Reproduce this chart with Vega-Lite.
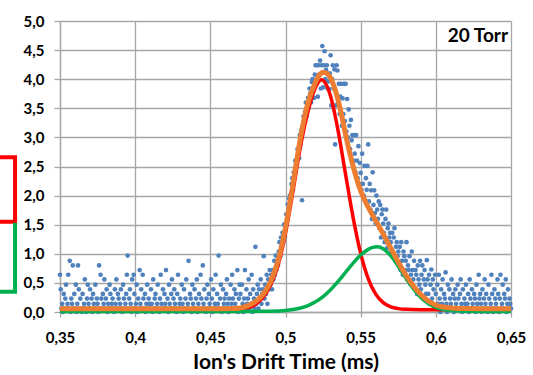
{
  "$schema": "https://vega.github.io/schema/vega-lite/v6.json",
  "autosize": {"type": "none"},
  "padding": {"left": 60, "top": 21, "right": 22, "bottom": 63},
  "width": 451,
  "height": 291,
  "background": "white",
  "config": {
    "view": {"stroke": null},
    "font": "Lato",
    "axis": {
      "gridColor": "#a6a6a6", "gridWidth": 1.3, "domainColor": "#a6a6a6", "domainWidth": 1.3,
      "tickColor": "#a6a6a6", "tickWidth": 1.3,
      "labelFont": "Lato", "labelFontWeight": "bold", "labelFontSize": 15, "labelColor": "#000000",
      "titleFont": "Lato", "titleFontWeight": "bold", "titleFontSize": 21, "titleColor": "#000000"
    }
  },
  "datasets": {
    "brackets": [
      {"g": "r", "c": "#ff0000", "o": 1, "x": 0.3, "y": 2.66},
      {"g": "r", "c": "#ff0000", "o": 2, "x": 0.3201, "y": 2.66},
      {"g": "r", "c": "#ff0000", "o": 3, "x": 0.3201, "y": 1.55},
      {"g": "r", "c": "#ff0000", "o": 4, "x": 0.3, "y": 1.55},
      {"g": "g", "c": "#00b050", "o": 1, "x": 0.3201, "y": 1.5},
      {"g": "g", "c": "#00b050", "o": 2, "x": 0.3201, "y": 0.35},
      {"g": "g", "c": "#00b050", "o": 3, "x": 0.3, "y": 0.35}
    ],
    "red": [
      {"x": 0.35, "y": 0.04}, {"x": 0.46, "y": 0.04}, {"x": 0.47, "y": 0.05}, {"x": 0.475, "y": 0.07},
      {"x": 0.48, "y": 0.13}, {"x": 0.485, "y": 0.25}, {"x": 0.49, "y": 0.46}, {"x": 0.495, "y": 0.8},
      {"x": 0.5, "y": 1.35}, {"x": 0.505, "y": 2.08}, {"x": 0.51, "y": 2.85}, {"x": 0.515, "y": 3.45},
      {"x": 0.52, "y": 3.86}, {"x": 0.524, "y": 3.99}, {"x": 0.525, "y": 3.98}, {"x": 0.53, "y": 3.705},
      {"x": 0.535, "y": 3.111}, {"x": 0.54, "y": 2.359}, {"x": 0.545, "y": 1.618}, {"x": 0.55, "y": 1.007},
      {"x": 0.555, "y": 0.574}, {"x": 0.56, "y": 0.306}, {"x": 0.565, "y": 0.16}, {"x": 0.57, "y": 0.088},
      {"x": 0.575, "y": 0.058}, {"x": 0.58, "y": 0.046}, {"x": 0.59, "y": 0.04}, {"x": 0.65, "y": 0.04}
    ],
    "green": [
      {"x": 0.35, "y": 0.01}, {"x": 0.47, "y": 0.01}, {"x": 0.48, "y": 0.011}, {"x": 0.49, "y": 0.014},
      {"x": 0.5, "y": 0.026}, {"x": 0.505, "y": 0.042}, {"x": 0.51, "y": 0.068}, {"x": 0.515, "y": 0.111},
      {"x": 0.52, "y": 0.175}, {"x": 0.525, "y": 0.265}, {"x": 0.53, "y": 0.383}, {"x": 0.535, "y": 0.526},
      {"x": 0.54, "y": 0.683}, {"x": 0.545, "y": 0.84}, {"x": 0.55, "y": 0.978}, {"x": 0.555, "y": 1.076},
      {"x": 0.558, "y": 1.11}, {"x": 0.561, "y": 1.12}, {"x": 0.565, "y": 1.088}, {"x": 0.57, "y": 0.968},
      {"x": 0.575, "y": 0.787}, {"x": 0.58, "y": 0.586}, {"x": 0.585, "y": 0.4}, {"x": 0.59, "y": 0.251},
      {"x": 0.595, "y": 0.146}, {"x": 0.6, "y": 0.08}, {"x": 0.605, "y": 0.043}, {"x": 0.61, "y": 0.024},
      {"x": 0.615, "y": 0.015}, {"x": 0.62, "y": 0.011}, {"x": 0.65, "y": 0.01}
    ],
    "orange": [
      {"x": 0.35, "y": 0.055}, {"x": 0.45, "y": 0.055}, {"x": 0.465, "y": 0.06}, {"x": 0.47, "y": 0.07},
      {"x": 0.475, "y": 0.11}, {"x": 0.48, "y": 0.18}, {"x": 0.485, "y": 0.3}, {"x": 0.49, "y": 0.52},
      {"x": 0.495, "y": 0.88}, {"x": 0.5, "y": 1.45}, {"x": 0.505, "y": 2.2}, {"x": 0.51, "y": 3.0},
      {"x": 0.515, "y": 3.6}, {"x": 0.52, "y": 3.95}, {"x": 0.5225, "y": 4.07}, {"x": 0.525, "y": 4.12},
      {"x": 0.5275, "y": 4.1}, {"x": 0.53, "y": 4.02}, {"x": 0.5325, "y": 3.86}, {"x": 0.535, "y": 3.64},
      {"x": 0.5375, "y": 3.36}, {"x": 0.54, "y": 3.04}, {"x": 0.545, "y": 2.5}, {"x": 0.55, "y": 2.08},
      {"x": 0.555, "y": 1.8}, {"x": 0.56, "y": 1.57}, {"x": 0.565, "y": 1.34}, {"x": 0.57, "y": 1.1},
      {"x": 0.575, "y": 0.86}, {"x": 0.58, "y": 0.64}, {"x": 0.585, "y": 0.45}, {"x": 0.59, "y": 0.3},
      {"x": 0.595, "y": 0.19}, {"x": 0.6, "y": 0.12}, {"x": 0.605, "y": 0.085}, {"x": 0.61, "y": 0.068},
      {"x": 0.62, "y": 0.058}, {"x": 0.65, "y": 0.055}
    ],
    "label": [{"x": 0.648, "y": 4.74, "t": "20 Torr"}],
    "pts": [
      {"x":0.35,"y":0.64},{"x":0.3505,"y":0.39},{"x":0.351,"y":0.06},{"x":0.3515,"y":0.14},{"x":0.352,"y":0},{"x":0.3525,"y":0.31},{"x":0.353,"y":0.06},{"x":0.3535,"y":0.23},{"x":0.354,"y":0.47},{"x":0.3545,"y":0.06},
      {"x":0.355,"y":0.14},{"x":0.3555,"y":0.64},{"x":0.356,"y":0.06},{"x":0.3565,"y":0.88},{"x":0.357,"y":0},{"x":0.3575,"y":0.23},{"x":0.358,"y":0.14},{"x":0.3585,"y":0.8},{"x":0.359,"y":0.06},{"x":0.3595,"y":0.31},
      {"x":0.36,"y":0.06},{"x":0.3605,"y":0.47},{"x":0.361,"y":0},{"x":0.3615,"y":0.14},{"x":0.362,"y":0.8},{"x":0.3625,"y":0.39},{"x":0.363,"y":0.06},{"x":0.3635,"y":0.23},{"x":0.364,"y":0.06},{"x":0.3645,"y":0},
      {"x":0.365,"y":0.31},{"x":0.3655,"y":0.06},{"x":0.366,"y":0.14},{"x":0.3665,"y":0.56},{"x":0.367,"y":0.06},{"x":0.3675,"y":0},{"x":0.368,"y":0.23},{"x":0.3685,"y":0.47},{"x":0.369,"y":0.14},{"x":0.3695,"y":0.06},
      {"x":0.37,"y":0.39},{"x":0.3705,"y":0.06},{"x":0.371,"y":0.23},{"x":0.3715,"y":0},{"x":0.372,"y":0.31},{"x":0.3725,"y":0.14},{"x":0.373,"y":0.06},{"x":0.3735,"y":0.47},{"x":0.374,"y":0.06},{"x":0.3745,"y":0.23},
      {"x":0.375,"y":0.14},{"x":0.3755,"y":0},{"x":0.376,"y":0.8},{"x":0.3765,"y":0.06},{"x":0.377,"y":0.64},{"x":0.3775,"y":0.23},{"x":0.378,"y":0.06},{"x":0.3785,"y":0.31},{"x":0.379,"y":0.14},{"x":0.3795,"y":0.56},
      {"x":0.38,"y":0.06},{"x":0.3805,"y":0.23},{"x":0.381,"y":0.39},{"x":0.3815,"y":0},{"x":0.382,"y":0.14},{"x":0.3825,"y":0.06},{"x":0.383,"y":0.47},{"x":0.3835,"y":0.31},{"x":0.384,"y":0.06},{"x":0.3845,"y":0.14},
      {"x":0.385,"y":0.23},{"x":0.3855,"y":0.06},{"x":0.386,"y":0},{"x":0.3865,"y":0.39},{"x":0.387,"y":0.14},{"x":0.3875,"y":0.56},{"x":0.388,"y":0.06},{"x":0.3885,"y":0.31},{"x":0.389,"y":0.23},{"x":0.3895,"y":0.06},
      {"x":0.39,"y":0.14},{"x":0.3905,"y":0.39},{"x":0.391,"y":0.06},{"x":0.3915,"y":0},{"x":0.392,"y":0.47},{"x":0.3925,"y":0.23},{"x":0.393,"y":0.06},{"x":0.3935,"y":0.14},{"x":0.394,"y":0.31},{"x":0.3945,"y":0.64},
      {"x":0.395,"y":0.97},{"x":0.3955,"y":0.06},{"x":0.396,"y":0.23},{"x":0.3965,"y":0.39},{"x":0.397,"y":0.14},{"x":0.3975,"y":0},{"x":0.398,"y":0.56},{"x":0.3985,"y":0.06},{"x":0.399,"y":0.64},{"x":0.3995,"y":0.31},
      {"x":0.4,"y":0.06},{"x":0.4005,"y":0.14},{"x":0.401,"y":0.47},{"x":0.4015,"y":0},{"x":0.402,"y":0.23},{"x":0.4025,"y":0.06},{"x":0.403,"y":0.72},{"x":0.4035,"y":0.14},{"x":0.404,"y":0.39},{"x":0.4045,"y":0.06},
      {"x":0.405,"y":0.64},{"x":0.4055,"y":0.23},{"x":0.406,"y":0.06},{"x":0.4065,"y":0.31},{"x":0.407,"y":0},{"x":0.4075,"y":0.14},{"x":0.408,"y":0.47},{"x":0.4085,"y":0.06},{"x":0.409,"y":0.23},{"x":0.4095,"y":0.14},
      {"x":0.41,"y":0.06},{"x":0.4105,"y":0.39},{"x":0.411,"y":0.14},{"x":0.4115,"y":0},{"x":0.412,"y":0.56},{"x":0.4125,"y":0.06},{"x":0.413,"y":0.23},{"x":0.4135,"y":0.31},{"x":0.414,"y":0.06},{"x":0.4145,"y":0.14},
      {"x":0.415,"y":0.47},{"x":0.4155,"y":0.06},{"x":0.416,"y":0},{"x":0.4165,"y":0.23},{"x":0.417,"y":0.64},{"x":0.4175,"y":0.14},{"x":0.418,"y":0.06},{"x":0.4185,"y":0.39},{"x":0.419,"y":0.06},{"x":0.4195,"y":0.31},
      {"x":0.42,"y":0.14},{"x":0.4205,"y":0.72},{"x":0.421,"y":0.06},{"x":0.4215,"y":0.23},{"x":0.422,"y":0},{"x":0.4225,"y":0.47},{"x":0.423,"y":0.14},{"x":0.4235,"y":0.06},{"x":0.424,"y":0.31},{"x":0.4245,"y":0.56},
      {"x":0.425,"y":0.06},{"x":0.4255,"y":0.23},{"x":0.426,"y":0.39},{"x":0.4265,"y":0.14},{"x":0.427,"y":0.06},{"x":0.4275,"y":0},{"x":0.428,"y":0.31},{"x":0.4285,"y":0.64},{"x":0.429,"y":0.06},{"x":0.4295,"y":0.14},
      {"x":0.43,"y":0.23},{"x":0.4305,"y":0.06},{"x":0.431,"y":0.47},{"x":0.4315,"y":0.14},{"x":0.432,"y":0},{"x":0.4325,"y":0.39},{"x":0.433,"y":0.06},{"x":0.4335,"y":0.23},{"x":0.434,"y":0.56},{"x":0.4345,"y":0.06},
      {"x":0.435,"y":0.14},{"x":0.4355,"y":0.88},{"x":0.436,"y":0.06},{"x":0.4365,"y":0.31},{"x":0.437,"y":0.23},{"x":0.4375,"y":0},{"x":0.438,"y":0.47},{"x":0.4385,"y":0.14},{"x":0.439,"y":0.06},{"x":0.4395,"y":0.39},
      {"x":0.44,"y":0.06},{"x":0.4405,"y":0.23},{"x":0.441,"y":0.56},{"x":0.4415,"y":0},{"x":0.442,"y":0.14},{"x":0.4425,"y":0.31},{"x":0.443,"y":0.06},{"x":0.4435,"y":0.64},{"x":0.444,"y":0.23},{"x":0.4445,"y":0.06},
      {"x":0.445,"y":0.8},{"x":0.4455,"y":0.14},{"x":0.446,"y":0.39},{"x":0.4465,"y":0.06},{"x":0.447,"y":0},{"x":0.4475,"y":0.23},{"x":0.448,"y":0.47},{"x":0.4485,"y":0.06},{"x":0.449,"y":0.31},{"x":0.4495,"y":0.14},
      {"x":0.45,"y":0.06},{"x":0.4505,"y":0.56},{"x":0.451,"y":0.23},{"x":0.4515,"y":0},{"x":0.452,"y":0.39},{"x":0.4525,"y":0.06},{"x":0.453,"y":0.14},{"x":0.4535,"y":0.64},{"x":0.454,"y":0.06},{"x":0.4545,"y":0.31},
      {"x":0.455,"y":0.14},{"x":0.4555,"y":0.97},{"x":0.456,"y":0.06},{"x":0.4565,"y":0.23},{"x":0.457,"y":0.47},{"x":0.4575,"y":0},{"x":0.458,"y":0.06},{"x":0.4585,"y":0.39},{"x":0.459,"y":0.14},{"x":0.4595,"y":0.23},
      {"x":0.46,"y":0.06},{"x":0.4605,"y":0.31},{"x":0.461,"y":0.56},{"x":0.4615,"y":0.14},{"x":0.462,"y":0},{"x":0.4625,"y":0.23},{"x":0.463,"y":0.06},{"x":0.4635,"y":0.47},{"x":0.464,"y":0.14},{"x":0.4645,"y":0.64},
      {"x":0.465,"y":0.23},{"x":0.4655,"y":0.06},{"x":0.466,"y":0.39},{"x":0.4665,"y":0.14},{"x":0.467,"y":0.31},{"x":0.4675,"y":0.06},{"x":0.468,"y":0.72},{"x":0.4685,"y":0},{"x":0.469,"y":0.23},{"x":0.4695,"y":0.47},
      {"x":0.47,"y":0.31},{"x":0.4705,"y":0.06},{"x":0.471,"y":0.47},{"x":0.4715,"y":0.14},{"x":0.472,"y":0},{"x":0.4725,"y":0.23},{"x":0.473,"y":0.72},{"x":0.4735,"y":0.06},{"x":0.474,"y":0.39},{"x":0.4745,"y":0.14},
      {"x":0.475,"y":0.23},{"x":0.4755,"y":0.56},{"x":0.476,"y":0.06},{"x":0.4765,"y":0.31},{"x":0.477,"y":0.14},{"x":0.4775,"y":0.64},{"x":0.478,"y":0},{"x":0.4785,"y":0.39},{"x":0.479,"y":0.23},{"x":0.4795,"y":0.06},
      {"x":0.48,"y":1.12},{"x":0.4805,"y":0.14},{"x":0.481,"y":0.31},{"x":0.4815,"y":0.47},{"x":0.482,"y":0.06},{"x":0.4825,"y":0.39},{"x":0.483,"y":0.23},{"x":0.4835,"y":0.56},{"x":0.484,"y":0.14},{"x":0.4845,"y":0.31},
      {"x":0.485,"y":0.39},{"x":0.4855,"y":0.96},{"x":0.486,"y":0.23},{"x":0.4865,"y":0.47},{"x":0.487,"y":0.31},{"x":0.4875,"y":0.64},{"x":0.488,"y":0.14},{"x":0.4885,"y":0.56},{"x":0.489,"y":0.39},{"x":0.4895,"y":0.72},
      {"x":0.49,"y":0.47},{"x":0.4905,"y":0.64},{"x":0.491,"y":0.39},{"x":0.4915,"y":0.72},{"x":0.492,"y":0.56},{"x":0.4925,"y":0.88},{"x":0.493,"y":0.64},{"x":0.4935,"y":0.97},{"x":0.494,"y":0.72},{"x":0.4945,"y":0.8},
      {"x":0.495,"y":0.8},{"x":0.4955,"y":1.04},{"x":0.496,"y":1.2},{"x":0.4965,"y":0.96},{"x":0.497,"y":1.28},{"x":0.4975,"y":1.12},{"x":0.498,"y":1.36},{"x":0.4985,"y":1.2},{"x":0.499,"y":1.5},{"x":0.4995,"y":1.3},
      {"x":0.5,"y":1.52},{"x":0.5005,"y":1.68},{"x":0.501,"y":1.6},{"x":0.5015,"y":1.85},{"x":0.502,"y":1.76},{"x":0.5025,"y":1.95},{"x":0.503,"y":2.0},{"x":0.5035,"y":1.9},{"x":0.504,"y":2.2},{"x":0.5045,"y":2.3},
      {"x":0.505,"y":2.1},{"x":0.5055,"y":2.4},{"x":0.506,"y":2.32},{"x":0.5065,"y":2.6},{"x":0.507,"y":2.48},{"x":0.5075,"y":2.56},{"x":0.508,"y":2.8},{"x":0.5085,"y":2.72},{"x":0.509,"y":2.64},{"x":0.5095,"y":3.04},
      {"x":0.51,"y":2.88},{"x":0.5105,"y":3.12},{"x":0.511,"y":1.92},{"x":0.5115,"y":3.2},{"x":0.512,"y":3.36},{"x":0.5125,"y":3.28},{"x":0.513,"y":3.44},{"x":0.5135,"y":3.6},{"x":0.514,"y":3.36},{"x":0.5145,"y":3.52},
      {"x":0.515,"y":3.68},{"x":0.5155,"y":3.52},{"x":0.516,"y":3.84},{"x":0.5165,"y":3.76},{"x":0.517,"y":3.6},{"x":0.5175,"y":3.95},{"x":0.518,"y":4.0},{"x":0.5185,"y":3.84},{"x":0.519,"y":3.68},{"x":0.5195,"y":4.08},
      {"x":0.52,"y":4.24},{"x":0.5205,"y":3.92},{"x":0.521,"y":4.24},{"x":0.5215,"y":3.7},{"x":0.522,"y":4.24},{"x":0.5225,"y":4.08},{"x":0.523,"y":4.32},{"x":0.5235,"y":3.84},{"x":0.524,"y":4.24},{"x":0.5245,"y":4.57},
      {"x":0.525,"y":3.86},{"x":0.5255,"y":4.24},{"x":0.526,"y":4.48},{"x":0.5265,"y":4.0},{"x":0.527,"y":4.16},{"x":0.5275,"y":4.24},{"x":0.528,"y":3.84},{"x":0.5285,"y":3.96},{"x":0.529,"y":3.83},{"x":0.5295,"y":4.1},
      {"x":0.53,"y":4.41},{"x":0.5305,"y":3.55},{"x":0.531,"y":4.0},{"x":0.5315,"y":4.24},{"x":0.532,"y":3.84},{"x":0.5325,"y":4.17},{"x":0.533,"y":2.88},{"x":0.5335,"y":3.55},{"x":0.534,"y":4.24},{"x":0.5345,"y":4.15},
      {"x":0.535,"y":3.6},{"x":0.5355,"y":3.92},{"x":0.536,"y":3.4},{"x":0.5365,"y":3.7},{"x":0.537,"y":3.92},{"x":0.5375,"y":3.2},{"x":0.538,"y":3.67},{"x":0.5385,"y":3.4},{"x":0.539,"y":3.92},{"x":0.5395,"y":3.28},
      {"x":0.54,"y":3.92},{"x":0.5405,"y":3.1},{"x":0.541,"y":3.66},{"x":0.5415,"y":3.0},{"x":0.542,"y":3.48},{"x":0.5425,"y":3.2},{"x":0.543,"y":2.8},{"x":0.5435,"y":3.3},{"x":0.544,"y":2.95},{"x":0.5445,"y":3.04},
      {"x":0.545,"y":2.6},{"x":0.5455,"y":3.04},{"x":0.546,"y":2.72},{"x":0.5465,"y":2.4},{"x":0.547,"y":3.04},{"x":0.5475,"y":2.6},{"x":0.548,"y":2.3},{"x":0.5485,"y":2.85},{"x":0.549,"y":2.2},{"x":0.5495,"y":2.56},
      {"x":0.55,"y":2.39},{"x":0.5505,"y":2.1},{"x":0.551,"y":2.72},{"x":0.5515,"y":2.2},{"x":0.552,"y":2.0},{"x":0.5525,"y":2.51},{"x":0.553,"y":1.92},{"x":0.5535,"y":2.3},{"x":0.554,"y":2.1},{"x":0.5545,"y":2.51},
      {"x":0.555,"y":2.88},{"x":0.5555,"y":1.9},{"x":0.556,"y":2.2},{"x":0.5565,"y":1.76},{"x":0.557,"y":2.09},{"x":0.5575,"y":1.6},{"x":0.558,"y":2.4},{"x":0.5585,"y":1.84},{"x":0.559,"y":2.09},{"x":0.5595,"y":1.7},
      {"x":0.56,"y":1.52},{"x":0.5605,"y":2.0},{"x":0.561,"y":1.76},{"x":0.5615,"y":1.6},{"x":0.562,"y":1.9},{"x":0.5625,"y":1.44},{"x":0.563,"y":1.84},{"x":0.5635,"y":1.28},{"x":0.564,"y":1.68},{"x":0.5645,"y":1.76},
      {"x":0.565,"y":1.52},{"x":0.5655,"y":1.36},{"x":0.566,"y":1.2},{"x":0.5665,"y":1.6},{"x":0.567,"y":1.76},{"x":0.5675,"y":1.1},{"x":0.568,"y":1.44},{"x":0.5685,"y":1.52},{"x":0.569,"y":1.28},{"x":0.5695,"y":1.36},
      {"x":0.57,"y":1.2},{"x":0.5705,"y":1.04},{"x":0.571,"y":1.36},{"x":0.5715,"y":0.96},{"x":0.572,"y":1.28},{"x":0.5725,"y":1.44},{"x":0.573,"y":0.88},{"x":0.5735,"y":1.12},{"x":0.574,"y":1.2},{"x":0.5745,"y":0.96},
      {"x":0.575,"y":1.04},{"x":0.5755,"y":0.8},{"x":0.576,"y":1.12},{"x":0.5765,"y":0.72},{"x":0.577,"y":1.2},{"x":0.5775,"y":0.88},{"x":0.578,"y":0.64},{"x":0.5785,"y":1.04},{"x":0.579,"y":0.96},{"x":0.5795,"y":0.72},
      {"x":0.58,"y":0.88},{"x":0.5805,"y":1.2},{"x":0.581,"y":0.56},{"x":0.5815,"y":0.8},{"x":0.582,"y":0.72},{"x":0.5825,"y":0.96},{"x":0.583,"y":0.48},{"x":0.5835,"y":0.64},{"x":0.584,"y":1.04},{"x":0.5845,"y":0.72},
      {"x":0.585,"y":0.56},{"x":0.5855,"y":0.88},{"x":0.586,"y":0.4},{"x":0.5865,"y":0.72},{"x":0.587,"y":0.64},{"x":0.5875,"y":0.31},{"x":0.588,"y":0.8},{"x":0.5885,"y":0.56},{"x":0.589,"y":0.47},{"x":0.5895,"y":0.88},
      {"x":0.59,"y":0.39},{"x":0.5905,"y":0.64},{"x":0.591,"y":0.8},{"x":0.5915,"y":0.23},{"x":0.592,"y":0.56},{"x":0.5925,"y":0.72},{"x":0.593,"y":0.47},{"x":0.5935,"y":0.31},{"x":0.594,"y":0.89},{"x":0.5945,"y":0.56},
      {"x":0.595,"y":0.31},{"x":0.5955,"y":0.64},{"x":0.596,"y":0.14},{"x":0.5965,"y":0.47},{"x":0.597,"y":0.73},{"x":0.5975,"y":0.23},{"x":0.598,"y":0.56},{"x":0.5985,"y":0.39},{"x":0.599,"y":0.06},{"x":0.5995,"y":0.64},
      {"x":0.6,"y":0.31},{"x":0.6005,"y":0.06},{"x":0.601,"y":0.47},{"x":0.6015,"y":0.14},{"x":0.602,"y":0.64},{"x":0.6025,"y":0.23},{"x":0.603,"y":0},{"x":0.6035,"y":0.39},{"x":0.604,"y":0.14},{"x":0.6045,"y":0.56},
      {"x":0.605,"y":0.06},{"x":0.6055,"y":0.31},{"x":0.606,"y":0.23},{"x":0.6065,"y":0.68},{"x":0.607,"y":0.14},{"x":0.6075,"y":0},{"x":0.608,"y":0.47},{"x":0.6085,"y":0.06},{"x":0.609,"y":0.39},{"x":0.6095,"y":0.23},
      {"x":0.61,"y":0.14},{"x":0.6105,"y":0.56},{"x":0.611,"y":0.06},{"x":0.6115,"y":0.31},{"x":0.612,"y":0},{"x":0.6125,"y":0.23},{"x":0.613,"y":0.39},{"x":0.6135,"y":0.14},{"x":0.614,"y":0.06},{"x":0.6145,"y":0.47},
      {"x":0.615,"y":0.23},{"x":0.6155,"y":0.06},{"x":0.616,"y":0.31},{"x":0.6165,"y":0.56},{"x":0.617,"y":0.14},{"x":0.6175,"y":0},{"x":0.618,"y":0.39},{"x":0.6185,"y":0.06},{"x":0.619,"y":0.23},{"x":0.6195,"y":0.14},
      {"x":0.62,"y":0.47},{"x":0.6205,"y":0.06},{"x":0.621,"y":0.14},{"x":0.6215,"y":0.31},{"x":0.622,"y":0},{"x":0.6225,"y":0.56},{"x":0.623,"y":0.23},{"x":0.6235,"y":0.06},{"x":0.624,"y":0.39},{"x":0.6245,"y":0.14},
      {"x":0.625,"y":0.06},{"x":0.6255,"y":0.31},{"x":0.626,"y":0.23},{"x":0.6265,"y":0},{"x":0.627,"y":0.47},{"x":0.6275,"y":0.14},{"x":0.628,"y":0.06},{"x":0.6285,"y":0.64},{"x":0.629,"y":0.23},{"x":0.6295,"y":0.31},
      {"x":0.63,"y":0.14},{"x":0.6305,"y":0},{"x":0.631,"y":0.39},{"x":0.6315,"y":0.06},{"x":0.632,"y":0.23},{"x":0.6325,"y":0.56},{"x":0.633,"y":0.14},{"x":0.6335,"y":0.31},{"x":0.634,"y":0.06},{"x":0.6345,"y":0},
      {"x":0.635,"y":0.47},{"x":0.6355,"y":0.23},{"x":0.636,"y":0.06},{"x":0.6365,"y":0.14},{"x":0.637,"y":0.64},{"x":0.6375,"y":0.31},{"x":0.638,"y":0},{"x":0.6385,"y":0.06},{"x":0.639,"y":0.39},{"x":0.6395,"y":0.23},
      {"x":0.64,"y":0.14},{"x":0.6405,"y":0.06},{"x":0.641,"y":0.56},{"x":0.6415,"y":0.31},{"x":0.642,"y":0},{"x":0.6425,"y":0.23},{"x":0.643,"y":0.64},{"x":0.6435,"y":0.06},{"x":0.644,"y":0.14},{"x":0.6445,"y":0.47},
      {"x":0.645,"y":0.06},{"x":0.6455,"y":0.31},{"x":0.646,"y":0.23},{"x":0.6465,"y":0.56},{"x":0.647,"y":0},{"x":0.6475,"y":0.14},{"x":0.648,"y":0.39},{"x":0.6485,"y":0.06},{"x":0.649,"y":0.23},{"x":0.6495,"y":0.14},
      {"x":0.65,"y":0.06}
    ]
  },
  "encoding": {
    "x": {
      "field": "x", "type": "quantitative",
      "scale": {"domain": [0.35, 0.65], "nice": false, "zero": false},
      "axis": {
        "values": [0.35, 0.4, 0.45, 0.5, 0.55, 0.6, 0.65],
        "labelExpr": "replace(format(datum.value, '.2~f'), '.', ',')",
        "title": "Ion's Drift Time (ms)",
        "grid": true, "tickSize": 5, "labelPadding": 13, "titlePadding": 6, "labelFlush": false
      }
    },
    "y": {
      "field": "y", "type": "quantitative",
      "scale": {"domain": [0, 5], "nice": false, "zero": false},
      "axis": {
        "values": [0, 0.5, 1, 1.5, 2, 2.5, 3, 3.5, 4, 4.5, 5],
        "labelExpr": "replace(format(datum.value, '.1f'), '.', ',')",
        "title": null, "grid": true, "tickSize": 6, "labelPadding": 10, "labelFlush": false
      }
    }
  },
  "layer": [
    {
      "data": {"name": "brackets"},
      "mark": {"type": "line", "strokeWidth": 4, "clip": false, "strokeJoin": "miter", "strokeCap": "square"},
      "encoding": {
        "detail": {"field": "g", "type": "nominal"},
        "order": {"field": "o", "type": "quantitative"},
        "color": {"field": "c", "type": "nominal", "scale": null}
      }
    },
    {
      "data": {"name": "pts"},
      "mark": {"type": "circle", "color": "#4f81bd", "size": 22, "opacity": 1},
      "encoding": {}
    },
    {
      "data": {"name": "red"},
      "mark": {"type": "line", "color": "#ff0000", "strokeWidth": 3.5, "interpolate": "monotone"},
      "encoding": {}
    },
    {
      "data": {"name": "green"},
      "mark": {"type": "line", "color": "#00b050", "strokeWidth": 3.5, "interpolate": "monotone"},
      "encoding": {}
    },
    {
      "data": {"name": "orange"},
      "mark": {"type": "line", "color": "#ed7d31", "strokeWidth": 5, "interpolate": "monotone"},
      "encoding": {}
    },
    {
      "data": {"name": "label"},
      "mark": {"type": "text", "align": "right", "baseline": "middle", "font": "Lato", "fontWeight": "bold", "fontSize": 19, "color": "#000000"},
      "encoding": {"text": {"field": "t", "type": "nominal"}}
    }
  ]
}
